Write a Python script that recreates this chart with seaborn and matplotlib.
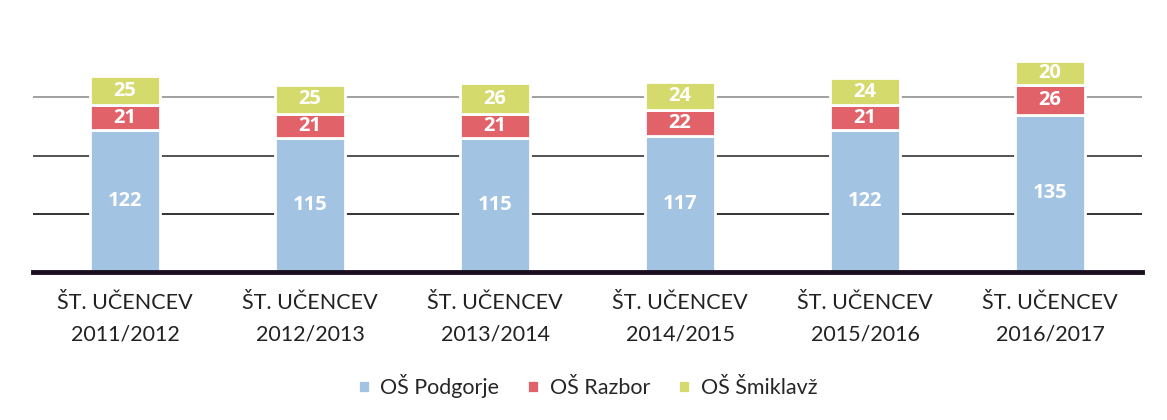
import pandas as pd
import matplotlib.pyplot as plt
import seaborn as sns

# data
years = ['2011/2012', '2012/2013', '2013/2014', '2014/2015', '2015/2016', '2016/2017']
podgorje = [122, 115, 115, 117, 122, 135]
razbor = [21, 21, 21, 22, 21, 26]
smiklavz = [25, 25, 26, 24, 24, 20]
series_names = ['OŠ Podgorje', 'OŠ Razbor', 'OŠ Šmiklavž']
colors = ['#A2C3E2', '#E2626A', '#D5DA6C']

labels = ['ŠT. UČENCEV\n' + y for y in years]
df = pd.DataFrame({'Leto': labels, 'Podgorje': podgorje, 'Razbor': razbor, 'Smiklavz': smiklavz})

sns.set_style('white')
plt.rcParams['font.family'] = ['Lato', 'DejaVu Sans']

fig = plt.figure(figsize=(11.67, 4.2), dpi=100)
ax = fig.add_axes([0.028, 0.352, 0.951, 0.555])

bottom = [0] * len(years)
for col, name, c in zip(['Podgorje', 'Razbor', 'Smiklavz'], series_names, colors):
    sns.barplot(data=df, x='Leto', y=col, color=c, saturation=1, width=0.38, bottom=bottom,
                edgecolor='white', linewidth=2, label=name, ax=ax)
    bottom = [b + v for b, v in zip(bottom, df[col])]

# value labels inside the segments
for cont in ax.containers:
    ax.bar_label(cont, label_type='center', color='white', fontsize=14.5,
                 fontweight='bold', family=['Open Sans', 'DejaVu Sans'])

ax.set_ylim(0, 200)
ax.set_xlim(-0.5, len(years) - 0.5)
ax.set_yticks([50, 100, 150])
ax.set_yticklabels([])
ax.tick_params(axis='y', length=0)
ax.tick_params(axis='x', length=0, labelsize=15.5, pad=15, colors='#222222')
for t in ax.get_xticklabels():
    t.set_linespacing(1.75)
ax.grid(axis='y', linewidth=1.3)
for gl, gc in zip(ax.get_ygridlines(), ['#222222', '#444444', '#999999']):
    gl.set_color(gc)
ax.set_axisbelow(True)
for s in ['top', 'right', 'left']:
    ax.spines[s].set_visible(False)
ax.spines['bottom'].set_color('#1a1020')
ax.spines['bottom'].set_linewidth(3.5)
ax.set_xlabel('')
ax.set_ylabel('')

ax.legend(loc='upper center', bbox_to_anchor=(0.5, -0.355), ncol=3, frameon=False,
          fontsize=15.5, handlelength=0.55, handleheight=0.55, handletextpad=0.5,
          columnspacing=1.3)

fig.savefig('out.png', dpi=100)
